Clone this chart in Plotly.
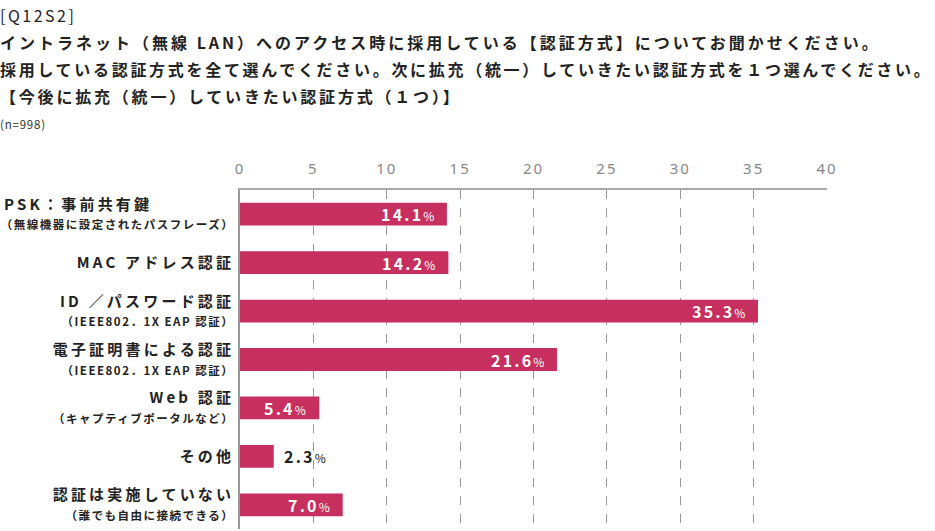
import plotly.graph_objects as go

categories = [
    "PSK：事前共有鍵",
    "MAC アドレス認証",
    "ID ／パスワード認証",
    "電子証明書による認証",
    "Web 認証",
    "その他",
    "認証は実施していない",
]
subtitles = [
    "（無線機器に設定されたパスフレーズ）",
    "",
    "（IEEE802．1X EAP 認証）",
    "（IEEE802．1X EAP 認証）",
    "（キャプティブポータルなど）",
    "",
    "（誰でも自由に接続できる）",
]
values = [14.1, 14.2, 35.3, 21.6, 5.4, 2.3, 7.0]
x_ticks = [0, 5, 10, 15, 20, 25, 30, 35, 40]

title_lines = [
    "[Q12S2]",
    "イントラネット（無線 LAN）へのアクセス時に採用している【認証方式】についてお聞かせください。",
    "採用している認証方式を全て選んでください。次に拡充（統一）していきたい認証方式を１つ選んでください。",
    "【今後に拡充（統一）していきたい認証方式（１つ）】",
]
n_note = "(n=998)"

BAR = "#C72F5F"
FONT = "Noto Sans CJK JP"


def spaced(text, ls, size=None):
    style = f"letter-spacing:{ls}px"
    if size:
        style += f";font-size:{size}px"
    return f"<span style='{style}'>{text}</span>"


tick_text = []
for i, (c, s) in enumerate(zip(categories, subtitles)):
    t = "<b>" + spaced(c, 3.2) + "</b>"
    if i == 0:
        # first label is left-aligned with its longer subtitle
        t += spaced("\u3000" * 4, 5.5)
    if s:
        t += "<br><b>" + spaced(s, 1.5, 11.5) + "</b>"
    tick_text.append(t)

fig = go.Figure()
fig.add_trace(go.Bar(
    x=values, y=categories, orientation="h",
    marker=dict(color=BAR, line=dict(width=0)),
    width=0.47,
))

L, R, T, B = 240, 108, 190, 2
W, H = 935, 531
pw, ph = W - L - R, H - T - B

annotations = []
for c, v in zip(categories, values):
    txt = "<b>" + spaced(f"{v:.1f}", 2.2) + "</b>" + spaced("%", 0, 12)
    inside = v > 4
    annotations.append(dict(
        x=v, y=c, xref="x", yref="y", text=txt, showarrow=False,
        xanchor="right" if inside else "left", xshift=-11 if inside else 8,
        font=dict(family=FONT, size=16, color="white" if inside else "#222"),
    ))

title_y = [15, 42, 69, 96]
title_ls = [2.5, 3.0, 2.7, 2.8]
for i, (line, py) in enumerate(zip(title_lines, title_y)):
    t = spaced(line, title_ls[i])
    annotations.append(dict(
        x=(-2 - L) / pw, y=(H - B - py) / ph, xref="paper", yref="paper",
        text=t if i == 0 else f"<b>{t}</b>", showarrow=False,
        xanchor="left", yanchor="middle",
        font=dict(family=FONT, size=16, color="#222"),
    ))
annotations.append(dict(
    x=(-2 - L) / pw, y=(H - B - 124) / ph, xref="paper", yref="paper",
    text=spaced(n_note, 0.8), showarrow=False, xanchor="left", yanchor="middle",
    font=dict(family=FONT, size=11.5, color="#333"),
))

fig.update_layout(
    width=W, height=H,
    margin=dict(l=L, r=R, t=T, b=B),
    plot_bgcolor="white", paper_bgcolor="white",
    showlegend=False,
    annotations=annotations,
    font=dict(family=FONT),
)
fig.update_xaxes(
    side="top", range=[0, 40], tickvals=x_ticks,
    ticktext=[spaced(str(t), 2) for t in x_ticks],
    showgrid=True, gridcolor="#999", griddash="dash", gridwidth=1,
    showline=True, linecolor="#aaa", linewidth=1.5,
    zeroline=False, ticks="", ticklabelstandoff=8, automargin=False,
    tickfont=dict(family="Noto Sans", size=15, color="#888"),
)
fig.update_yaxes(
    autorange="reversed", tickvals=categories, ticktext=tick_text,
    showline=True, linecolor="#999", linewidth=1.5,
    showgrid=False, ticks="", ticklabelstandoff=1, automargin=False,
    tickfont=dict(family=FONT, size=15, color="#222"),
)

fig.write_html("out.html", config={"displayModeBar": False},
               post_script="document.body.style.margin='0';")
